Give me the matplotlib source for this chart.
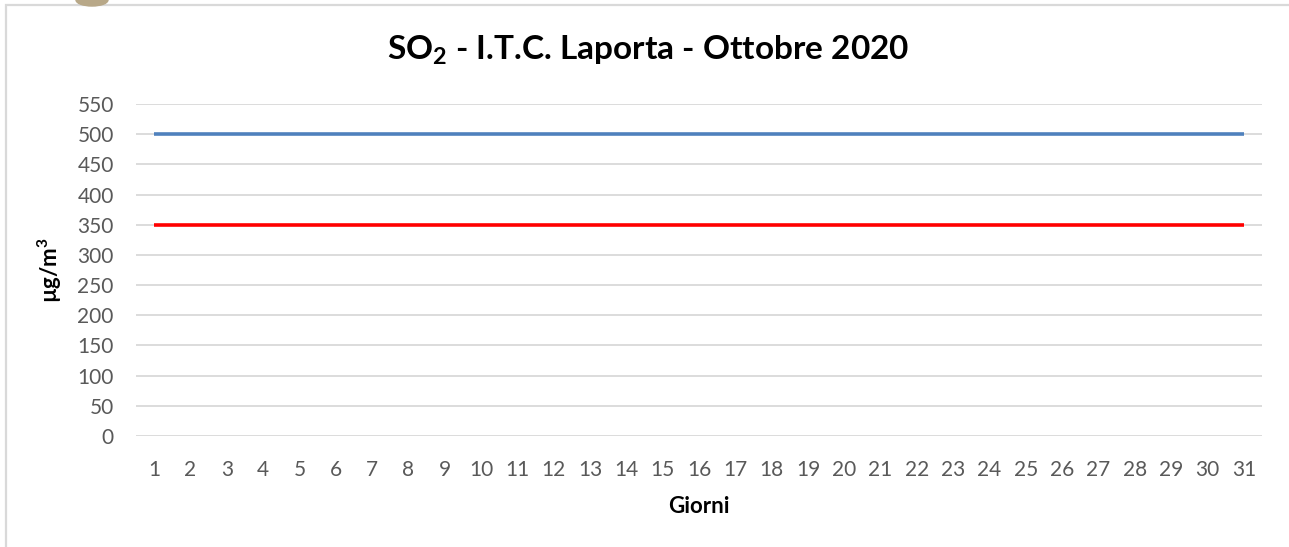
import matplotlib
import matplotlib.pyplot as plt
import matplotlib.patches as mpatches
import numpy as np

matplotlib.use("Agg")

# data
DAYS = list(range(1, 32))
LIMIT_HOURLY = [500] * 31   # blue
LIMIT_ALERT = [350] * 31    # red
Y_TICKS = list(range(0, 551, 50))

TITLE = "SO$_2$ - I.T.C. Laporta - Ottobre 2020"
X_LABEL = "Giorni"
Y_LABEL = "µg/m$^3$"

FONT = "Lato"
matplotlib.rcParams.update({
    "font.family": FONT,
    "mathtext.fontset": "custom",
    "mathtext.bf": f"{FONT}:bold",
    "mathtext.rm": f"{FONT}:bold",
    "mathtext.default": "bf",
})

GRID = "#d9d9d9"
TICK = "#595959"
BLUE = "#4f81bd"
RED = "#ff0000"

fig = plt.figure(figsize=(12.89, 5.47), dpi=100)
ax = fig.add_axes([136 / 1289, 1 - 436 / 547, (1262 - 136) / 1289, (436 - 104) / 547])

x = np.arange(len(DAYS))
ax.plot(x, LIMIT_HOURLY, color=BLUE, linewidth=2.6, solid_capstyle="butt", zorder=3)
ax.plot(x, LIMIT_ALERT, color=RED, linewidth=2.6, solid_capstyle="butt", zorder=3)

ax.set_xlim(-0.5, len(DAYS) - 0.5)
ax.set_ylim(0, 550)
ax.set_yticks(Y_TICKS)
ax.set_xticks(x)
ax.set_xticklabels([str(d) for d in DAYS])
ax.tick_params(axis="both", length=0, labelsize=15, labelcolor=TICK)
ax.tick_params(axis="y", pad=16)
ax.tick_params(axis="x", pad=17.5)
ax.grid(axis="y", color=GRID, linewidth=1.3)
ax.set_axisbelow(True)
for s in ax.spines.values():
    s.set_visible(False)

ax.set_xlabel(X_LABEL, fontsize=16, fontweight="bold", labelpad=11)
ax.set_ylabel(Y_LABEL, fontsize=16, fontweight="bold", labelpad=10)

fig.text(648 / 1289, 1 - 50 / 547, TITLE, ha="center", va="center",
         fontsize=24, fontweight="bold")

# chart frame (cropped on right / bottom) and logo fragment
fig.add_artist(mpatches.Rectangle((6 / 1289, -0.1), 1.2, 1 - 5 / 547 + 0.1,
                                  transform=fig.transFigure, fill=False,
                                  edgecolor=GRID, linewidth=1.6))
fig.add_artist(mpatches.Ellipse((92 / 1289, 1.0), 32 / 1289, 12 / 547,
                                transform=fig.transFigure, color="#b8a888"))

fig.savefig("out.png", dpi=100)
